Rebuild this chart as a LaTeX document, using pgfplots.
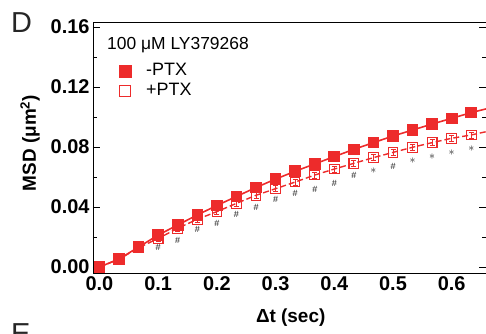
\documentclass[border=0pt]{standalone}
\usepackage{pgfplots}
\pgfplotsset{compat=1.18}
\usepackage{fontspec}
\setmainfont{Liberation Sans}
\definecolor{myred}{RGB}{237,43,43}
\pgfplotstableread{
x y
0.0000 0.0000
0.0333 0.0053
0.0667 0.0133
0.1000 0.0213
0.1333 0.0280
0.1667 0.0347
0.2000 0.0410
0.2333 0.0470
0.2667 0.0530
0.3000 0.0586
0.3333 0.0638
0.3667 0.0687
0.4000 0.0736
0.4333 0.0784
0.4667 0.0829
0.5000 0.0873
0.5333 0.0913
0.5667 0.0953
0.6000 0.0991
0.6333 0.1029
0.6667 0.1062
}\minusptx
\pgfplotstableread{
x y e
0.0000 0.0000 0.0010
0.0333 0.0052 0.0015
0.0667 0.0128 0.0018
0.1000 0.0190 0.0020
0.1333 0.0258 0.0020
0.1667 0.0318 0.0020
0.2000 0.0369 0.0020
0.2333 0.0424 0.0020
0.2667 0.0478 0.0020
0.3000 0.0522 0.0020
0.3333 0.0566 0.0020
0.3667 0.0613 0.0020
0.4000 0.0653 0.0020
0.4333 0.0691 0.0020
0.4667 0.0729 0.0020
0.5000 0.0764 0.0020
0.5333 0.0798 0.0020
0.5667 0.0829 0.0020
0.6000 0.0858 0.0020
0.6333 0.0880 0.0020
0.6667 0.0909 0.0020
}\plusptx
\pgfplotstableread{
x y
0.1000 0.0133
0.1333 0.0180
0.1667 0.0253
0.2000 0.0293
0.2333 0.0353
0.2667 0.0397
0.3000 0.0450
0.3333 0.0490
0.3667 0.0520
0.4000 0.0560
0.4333 0.0613
0.5000 0.0673
}\hashes
\pgfplotstableread{
x y
0.4667 0.0640
0.5333 0.0707
0.5667 0.0733
0.6000 0.0760
0.6333 0.0787
}\stars
\begin{document}
\begin{tikzpicture}
\useasboundingbox (-93bp,-61bp) rectangle (393bp,273bp);
\node[anchor=base west, inner sep=0, font=\fontsize{29}{34}\selectfont, text=black!85] at (-82bp,240bp) {D};
\node[anchor=base west, inner sep=0, font=\fontsize{29}{34}\selectfont, text=black!85] at (-82bp,-70bp) {E};
\begin{axis}[
  at={(0,0)}, anchor=south west,
  scale only axis, width=393bp, height=251bp,
  xmin=-0.011, xmax=0.6584, ymin=-0.004, ymax=0.1633,
  axis line style={line width=0.9bp, black},
  clip marker paths=true,
  xtick={0,0.1,0.2,0.3,0.4,0.5,0.6},
  ytick={0,0.04,0.08,0.12,0.16},
  minor y tick num=1,
  tick align=inside,
  x tick style={draw=none},
  y tick style={line width=0.8bp, black},
  major tick length=7bp, minor tick length=4bp,
  /pgf/number format/assume math mode=true,
  ticklabel style={font=\fontsize{20}{24}\selectfont\bfseries},
  xticklabel style={/pgf/number format/.cd, fixed, fixed zerofill, precision=1},
  yticklabel style={/pgf/number format/.cd, fixed, fixed zerofill, precision=2},
  scaled y ticks=false, scaled x ticks=false,
  xlabel={Δt (sec)},
  xlabel style={font=\fontsize{19}{22}\selectfont\bfseries, at={(axis description cs:0.503,-0.179)}, anchor=center},
  ylabel={MSD (μm\textsuperscript{2})},
  ylabel style={font=\fontsize{19}{22}\selectfont\bfseries, at={(axis description cs:-0.16,0.518)}, anchor=center, rotate=0},
  legend style={draw=none, fill=none, at={(axis description cs:0.066,0.84)}, anchor=north west,
    font=\fontsize{18}{21}\selectfont, inner sep=0pt, row sep=3bp,
    nodes={inner sep=0pt, text height=13bp, text depth=4bp},
    /tikz/every odd column/.append style={column sep=15bp}},
  legend cell align=left,
  legend image code/.code={\draw[#1] plot coordinates {(6bp,0bp)};},
]
\addlegendimage{only marks, mark=square*, mark size=6bp, color=myred}
\addlegendentry{-PTX}
\addlegendimage{only marks, mark=square, mark size=5.6bp, color=myred, mark options={line width=0.8bp}}
\addlegendentry{+PTX}
\addplot[forget plot, color=myred, line width=1.6bp, mark=square*, mark size=5bp] table[x=x,y=y] {\minusptx};
\addplot[forget plot, color=myred, line width=1.4bp, dash pattern=on 6bp off 3bp, mark=square, mark size=4.8bp,
  mark options={solid, fill=white, line width=1.1bp},
  error bars/.cd, y dir=both, y explicit, error mark options={rotate=90, mark size=2.5bp, line width=0.8bp, color=myred},
  error bar style={line width=0.8bp, solid, color=myred}] table[x=x,y=y,y error=e] {\plusptx};
\addplot[forget plot, only marks, mark=none, nodes near coords={\#}, nodes near coords align={center},
  every node near coord/.append style={font=\fontsize{9}{10}\selectfont, text=black!90, inner sep=0}] table[x=x,y=y] {\hashes};
\addplot[forget plot, only marks, mark=none, nodes near coords={$\ast$}, nodes near coords align={center},
  every node near coord/.append style={font=\fontsize{13}{14}\selectfont, text=black!85, inner sep=0}] table[x=x,y=y] {\stars};
\node[anchor=west, inner sep=0, font=\fontsize{17.5}{20}\selectfont] at (axis description cs:0.0356,0.908) {100 μM LY379268};
\end{axis}
\end{tikzpicture}
\end{document}
